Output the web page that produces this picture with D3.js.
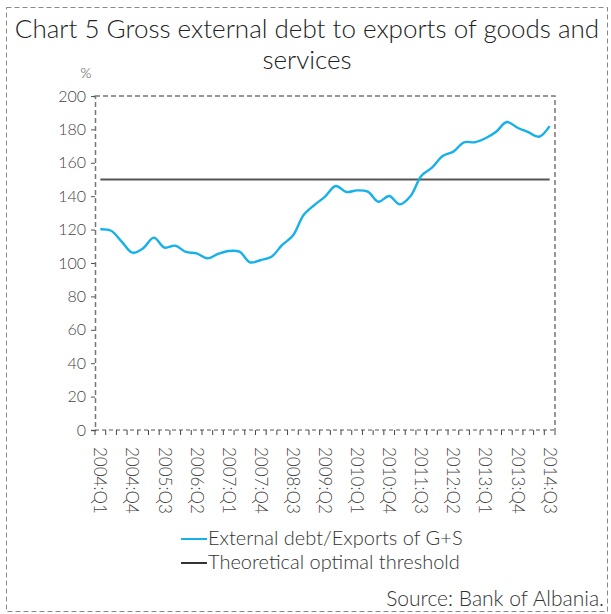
<!DOCTYPE html>
<html>
<head>
<meta charset="utf-8">
<script src="https://cdn.jsdelivr.net/npm/d3@7/dist/d3.min.js"></script>
<style>
  body { margin: 0; background: #fff; }
  svg text { font-family: "Lato", "Open Sans", sans-serif; font-weight: 300; }
</style>
</head>
<body>
<div id="chart"></div>
<script>
// data
const years = d3.range(2004, 2015);
const quarters = years.flatMap(y => [1, 2, 3, 4].map(q => `${y}:Q${q}`)).slice(0, 43);
const debtRatio = [
  120.2, 119.3, 112.8, 106.2, 108.8, 115.2, 109.2, 110.4, 106.6, 105.8,
  102.8, 105.4, 107.2, 106.8, 100.4, 101.8, 103.8, 110.8, 116.4, 128.7,
  134.7, 139.7, 146.1, 142.5, 143.5, 142.7, 136.7, 140.1, 135.1, 140.1,
  152.1, 157.1, 164.1, 166.7, 172.3, 172.3, 174.7, 178.6, 184.4, 181.0,
  178.4, 175.6, 182.0
];
const threshold = 150;
const yTicks = [0, 20, 40, 60, 80, 100, 120, 140, 160, 180, 200];
const labelEvery = 3;

const width = 611, height = 614;
const marginLeft = 95, marginRight = 56, marginTop = 96, marginBottom = 184;

const svg = d3.select('#chart')
  .append('svg')
  .attr('width', width)
  .attr('height', height);

// cadre pointillé
svg.append('rect')
  .attr('x', 6.5).attr('y', 7.5)
  .attr('width', 601).attr('height', 604)
  .attr('fill', 'none')
  .attr('stroke', '#888')
  .attr('stroke-dasharray', '5,3');

// titre
const title = svg.append('text')
  .attr('text-anchor', 'middle')
  .style('font-size', '26px')
  .attr('fill', '#222');
title.append('tspan').attr('x', 307).attr('y', 38).text('Chart 5 Gross external debt to exports of goods and');
title.append('tspan').attr('x', 307).attr('y', 69).text('services');

const x = d3.scaleBand()
  .domain(quarters)
  .range([marginLeft, width - marginRight]);

const y = d3.scaleLinear()
  .domain([0, 200])
  .range([height - marginBottom, marginTop]);

// bords du graphique (haut + droite)
svg.append('path')
  .attr('d', `M${marginLeft},${marginTop}H${width - marginRight}V${height - marginBottom}`)
  .attr('fill', 'none')
  .attr('stroke', '#777')
  .attr('stroke-width', 1.5)
  .attr('stroke-dasharray', '5,3');

// axe Y
const yAxis = svg.append('g')
  .attr('transform', `translate(${marginLeft},0)`)
  .call(d3.axisLeft(y).tickValues(yTicks).tickSize(4).tickPadding(5));
yAxis.select('.domain')
  .attr('stroke', '#777')
  .attr('stroke-width', 1.5)
  .attr('stroke-dasharray', '5,3');
yAxis.selectAll('.tick line').attr('stroke', '#555');
yAxis.selectAll('text')
  .style('font-size', '16px')
  .attr('fill', '#444');

svg.append('text')
  .attr('x', 86).attr('y', 78)
  .attr('text-anchor', 'middle')
  .style('font-size', '14px')
  .attr('fill', '#444')
  .text('%');

// axe X : traits aux limites des trimestres
const xAxisG = svg.append('g')
  .attr('transform', `translate(0,${height - marginBottom})`);
xAxisG.append('line')
  .attr('x1', marginLeft).attr('x2', width - marginRight)
  .attr('stroke', '#555')
  .attr('stroke-dasharray', '4,3');
xAxisG.selectAll('line.tk')
  .data(d3.range(quarters.length + 1))
  .join('line')
  .attr('class', 'tk')
  .attr('x1', i => marginLeft + i * x.step())
  .attr('x2', i => marginLeft + i * x.step())
  .attr('y1', 0).attr('y2', 5)
  .attr('stroke', '#444');
xAxisG.selectAll('text')
  .data(quarters.filter((d, i) => i % labelEvery === 0))
  .join('text')
  .attr('transform', d => `translate(${x(d) + x.bandwidth() / 2 - 6},17) rotate(90)`)
  .style('font-size', '17px')
  .attr('fill', '#444')
  .text(d => d);

// seuil
svg.append('line')
  .attr('x1', x(quarters[0]) + x.bandwidth() / 2)
  .attr('x2', x(quarters[quarters.length - 1]) + x.bandwidth() / 2)
  .attr('y1', y(threshold)).attr('y2', y(threshold))
  .attr('stroke', '#555')
  .attr('stroke-width', 2);

const line = d3.line()
  .x((d, i) => x(quarters[i]) + x.bandwidth() / 2)
  .y(d => y(d))
  .curve(d3.curveCatmullRom.alpha(0.5));

svg.append('path')
  .datum(debtRatio)
  .attr('fill', 'none')
  .attr('stroke', '#16b0ea')
  .attr('stroke-width', 2.4)
  .attr('d', line);

// légende
const legend = [
  { label: 'External debt/Exports of G+S', color: '#16b0ea', y: 539 },
  { label: 'Theoretical optimal threshold', color: '#333', y: 563 }
];
legend.forEach(l => {
  svg.append('line')
    .attr('x1', 181).attr('x2', 207)
    .attr('y1', l.y).attr('y2', l.y)
    .attr('stroke', l.color)
    .attr('stroke-width', 2);
  svg.append('text')
    .attr('x', 208).attr('y', l.y + 6)
    .style('font-size', '20px')
    .attr('fill', '#333')
    .text(l.label);
});

svg.append('text')
  .attr('x', 604).attr('y', 606)
  .attr('text-anchor', 'end')
  .style('font-size', '21px')
  .attr('fill', '#333')
  .text('Source: Bank of Albania.');
</script>
</body>
</html>
